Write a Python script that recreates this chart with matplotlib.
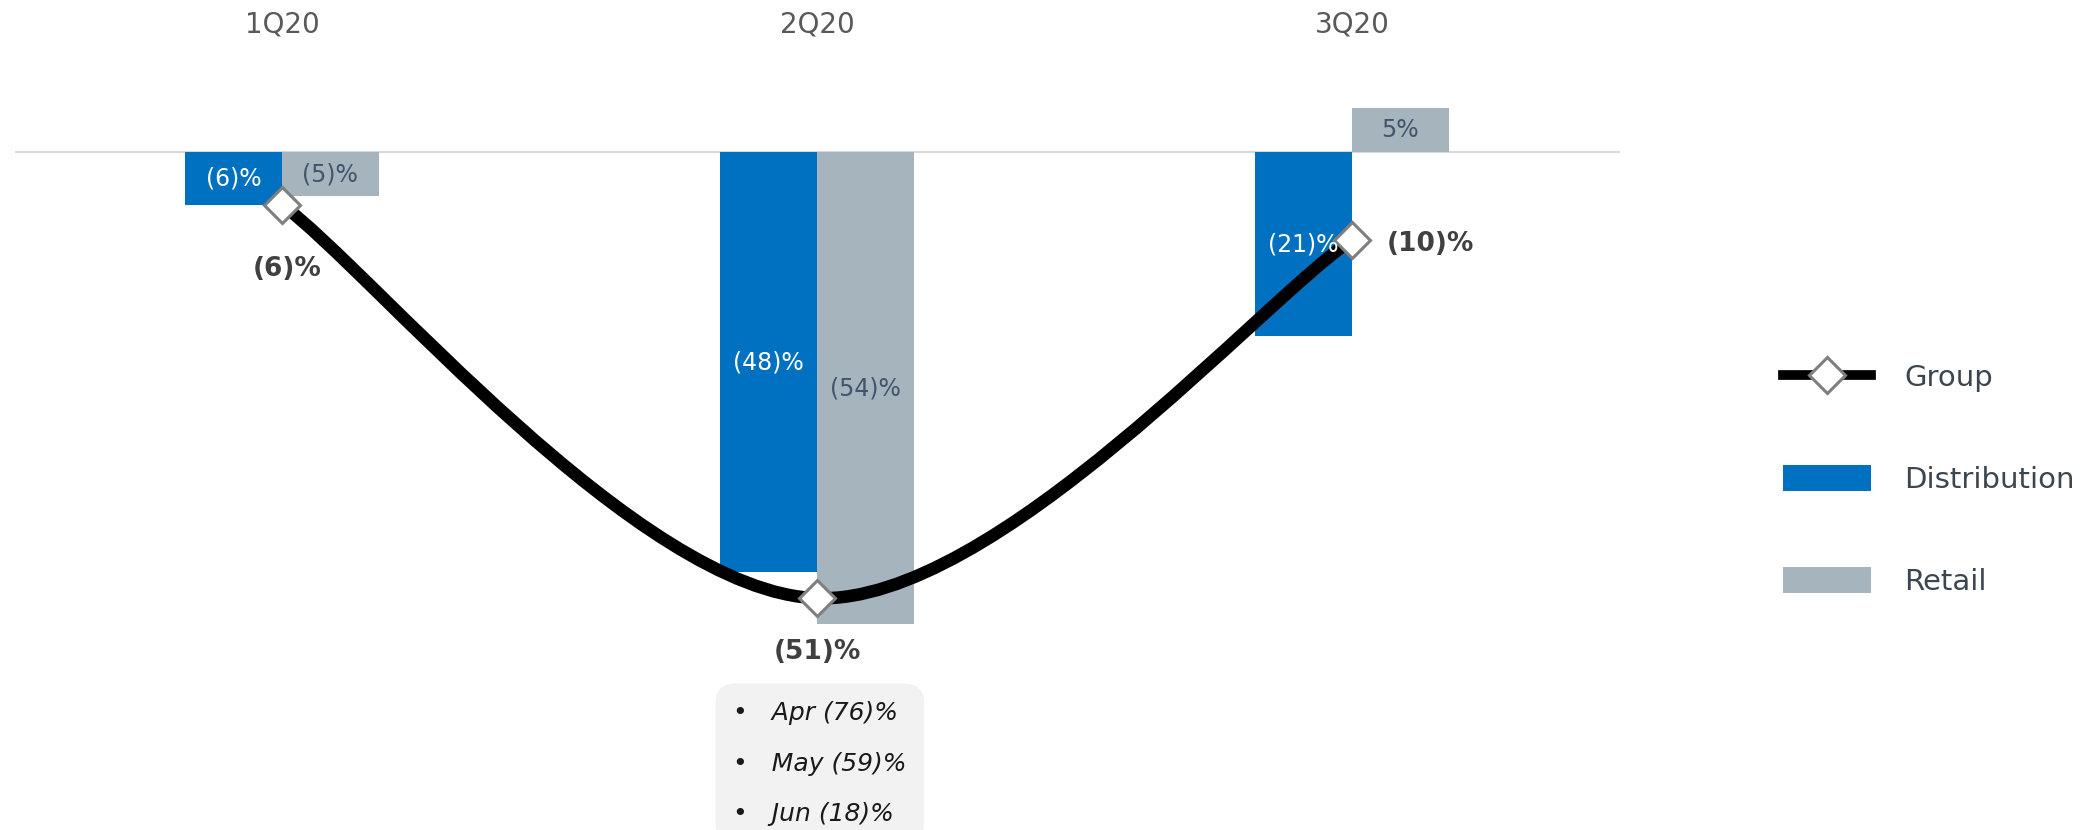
import numpy as np
import matplotlib.pyplot as plt
from matplotlib.path import Path
from matplotlib.patches import PathPatch
from matplotlib.lines import Line2D
import matplotlib.transforms as mtransforms

plt.rcParams['font.family'] = ['DejaVu Sans']

# ---- data ----
categories = ["1Q20", "2Q20", "3Q20"]
distribution = [-6, -48, -21]
retail = [-5, -54, 5]
group = [-6, -51, -10]
months = ["Apr", "May", "Jun"]
monthly = [-76, -59, -18]

BLUE = "#0070C0"
GREY = "#A5B4BD"
RETAIL_TXT = "#44546A"


def fmt(v):
    return f"({abs(v)})%" if v < 0 else f"{v}%"


fig = plt.figure(figsize=(20.98, 8.30), dpi=100)
ax = fig.add_axes([14.5 / 2098, 0, 1605 / 2098, 1])
ax.set_xlim(-0.5, 2.5)
ax.set_ylim(-77.5, 17.4)
ax.axis("off")

x = np.arange(len(categories))
w = 0.181

ax.axhline(0, color="#D9D9D9", lw=1.5, zorder=1)
b1 = ax.bar(x - w / 2, distribution, w, color=BLUE, label="Distribution", zorder=2)
b2 = ax.bar(x + w / 2, retail, w, color=GREY, label="Retail", zorder=2)

# smoothed group line (Bezier through the points, like Excel's smoothing)
pts = np.column_stack([x, group]).astype(float)
P = np.vstack([pts[0], pts, pts[-1]])
verts = [pts[0]]
codes = [Path.MOVETO]
for i in range(len(pts) - 1):
    c1 = P[i + 1] + (P[i + 2] - P[i]) / 6
    c2 = P[i + 2] - (P[i + 3] - P[i + 1]) / 6
    verts += [c1, c2, P[i + 2]]
    codes += [Path.CURVE4] * 3
ax.add_patch(PathPatch(Path(verts, codes), fill=False, lw=9, ec="black",
                       capstyle="butt", zorder=3))
ax.plot(x, group, ls="none", marker="D", ms=18, mfc="white", mec="#7F7F7F",
        mew=2.2, zorder=4)

# bar labels
for xi, v in zip(x - w / 2, distribution):
    ax.text(xi, v / 2, fmt(v), ha="center", va="center", color="white",
            fontsize=17, zorder=5)
for xi, v in zip(x + w / 2, retail):
    ax.text(xi, v / 2, fmt(v), ha="center", va="center", color=RETAIL_TXT,
            fontsize=17, zorder=5)

# group labels
offsets = [(4, -46), (0, -39), (25, -3)]
aligns = ["center", "center", "left"]
for xi, v, off, ha in zip(x, group, offsets, aligns):
    ax.annotate(fmt(v), (xi, v), xytext=off, textcoords="offset points",
                ha=ha, va="center", fontsize=19, fontweight="bold",
                color="#404040", zorder=5)

# category labels on top
trans = mtransforms.blended_transform_factory(ax.transData, ax.transAxes)
for xi, c in zip(x, categories):
    ax.text(xi, 1 - 25 / 830, c, transform=trans, ha="center", va="center",
            fontsize=20, color="#595959")

# monthly breakdown box
lines = "\n".join(f"•   {m} {fmt(v)}" for m, v in zip(months, monthly))
fig.text(733 / 2098, 1 - 701 / 830, lines, ha="left", va="top", fontsize=18,
         style="italic", linespacing=2.4, color="#1A1A1A",
         bbox=dict(boxstyle="round,pad=0.7,rounding_size=0.8", fc="#F2F2F2",
                   ec="none"))

# legend
gl = Line2D([], [], color="black", lw=7, marker="D", ms=18, mfc="white",
            mec="#7F7F7F", mew=2.2, label="Group")
fig.legend(handles=[gl, b1, b2], loc="upper left",
           bbox_to_anchor=(1783 / 2098, 1 - 363 / 830), frameon=False,
           fontsize=21, handlelength=3.0, handleheight=1.0,
           handletextpad=1.16, labelspacing=2.5, borderpad=0,
           borderaxespad=0, labelcolor="#3B4650")

fig.savefig("out.png", dpi=100)
